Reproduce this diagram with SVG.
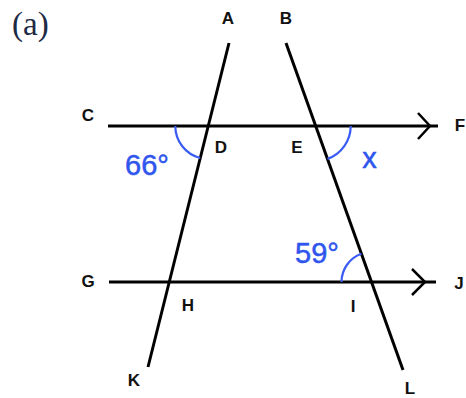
<svg xmlns="http://www.w3.org/2000/svg" width="466" height="398" viewBox="0 0 466 398">
<style>
.ln{stroke:#000;stroke-width:3;fill:none;stroke-linecap:butt}
.chev{stroke:#000;stroke-width:2.5;fill:none;stroke-linejoin:miter}
.arc{stroke:#3a5cf5;stroke-width:2.2;fill:none}
.lbl{font-family:"Liberation Sans",Arial,sans-serif;font-weight:bold;font-size:17px;fill:#111;text-anchor:middle;dominant-baseline:central}
.ang{font-family:"Liberation Sans",Arial,sans-serif;font-size:29px;fill:#2f55ee;stroke:#2f55ee;stroke-width:0.5}
</style>
<rect width="466" height="398" fill="#fff"/>
<text x="12" y="35" font-family="'Liberation Serif','DejaVu Serif',serif" font-size="33" fill="#1d2a44">(a)</text>
<g id="lines">
<line class="ln" x1="108" y1="126" x2="438" y2="126"/>
<polyline class="chev" points="418,113 430,126 418,139"/>
<line class="ln" x1="109" y1="282" x2="436" y2="282"/>
<polyline class="chev" points="412,269 425,282 412,295"/>
<line class="ln" x1="229" y1="43" x2="148" y2="367"/>
<line class="ln" x1="286" y1="43" x2="403" y2="370"/>
</g>
<g id="angles">
<path class="arc" d="M175.3,126 A33,33 0 0 0 200.2,158"/>
<path class="arc" d="M350.7,126 A35,35 0 0 1 327.5,158.9"/>
<path class="arc" d="M341.5,282 A30,30 0 0 1 361.4,253.8"/>
<text class="ang" x="125" y="175">66°</text>
<text class="ang" x="295" y="263">59°</text>
<text class="ang" x="369.5" y="168" text-anchor="middle">x</text>
</g>
<g id="labels">
<text class="lbl" x="228" y="18">A</text>
<text class="lbl" x="286" y="18">B</text>
<text class="lbl" x="88" y="115">C</text>
<text class="lbl" x="221" y="147">D</text>
<text class="lbl" x="297" y="147">E</text>
<text class="lbl" x="460" y="125">F</text>
<text class="lbl" x="88" y="281">G</text>
<text class="lbl" x="188" y="305">H</text>
<text class="lbl" x="353" y="306">I</text>
<text class="lbl" x="459" y="283">J</text>
<text class="lbl" x="134" y="380">K</text>
<text class="lbl" x="410" y="388">L</text>
</g>
</svg>
